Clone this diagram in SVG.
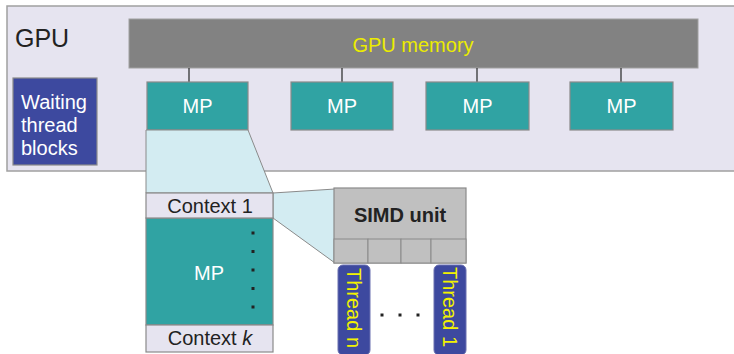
<svg xmlns="http://www.w3.org/2000/svg" width="734" height="354" viewBox="0 0 734 354">
<style>
text{font-family:"Liberation Sans",Arial,sans-serif;font-size:20px}
.mp{fill:#30a3a3;stroke:#8a8a8a;stroke-width:1.2}
.mpt{fill:#ffffff;text-anchor:middle}
.ctx{fill:#e6e4f0;stroke:#8a8a8a;stroke-width:1.2}
.ctxt{fill:#222;text-anchor:middle}
.zoom{fill:#d3ecf2;stroke:#8a8a8a;stroke-width:1}
.link{stroke:#333;stroke-width:1.3}
.thr{fill:#3d499f;stroke:#6a70b0;stroke-width:1}
.thrt{fill:#f2f200;text-anchor:middle}
.dot{fill:#222}
.cell{fill:#c0c0c0;stroke:#8a8a8a;stroke-width:1}
</style>
<g id="gpu">
<rect x="7" y="6" width="740" height="165" fill="#e6e4f0" stroke="#a0a0a0" stroke-width="1.5"/>
<text x="15" y="47" style="font-size:25px" fill="#222">GPU</text>
</g>
<g id="gpu-memory">
<rect x="129" y="19" width="569" height="49" fill="#828282" stroke="#a0a0a0" stroke-width="1"/>
<text x="413" y="52" fill="#ecec00" text-anchor="middle">GPU memory</text>
</g>
<g id="connectors">
<line class="link" x1="189" y1="68" x2="189" y2="82"/>
<line class="link" x1="342" y1="68" x2="342" y2="82"/>
<line class="link" x1="477" y1="68" x2="477" y2="82"/>
<line class="link" x1="621" y1="68" x2="621" y2="82"/>
</g>
<g id="mp1"><rect class="mp" x="147" y="82" width="101" height="48"/><text class="mpt" x="197.5" y="113">MP</text></g>
<g id="mp2"><rect class="mp" x="291" y="82" width="102" height="48"/><text class="mpt" x="342" y="113">MP</text></g>
<g id="mp3"><rect class="mp" x="426" y="82" width="103" height="48"/><text class="mpt" x="477.5" y="113">MP</text></g>
<g id="mp4"><rect class="mp" x="570" y="82" width="103" height="48"/><text class="mpt" x="621.5" y="113">MP</text></g>
<g id="waiting">
<rect x="13" y="78" width="84" height="87" fill="#3d499f" stroke="#8a8a8a" stroke-width="1.2"/>
<text x="21" y="109" fill="#fff">Waiting</text>
<text x="21" y="132" fill="#fff">thread</text>
<text x="21" y="155" fill="#fff">blocks</text>
</g>
<g id="zoom-mp">
<polygon class="zoom" points="146,130 248,130 273,193 146,193"/>
</g>
<g id="zoom-simd">
<polygon class="zoom" points="273,193 335,189 335,263 273,218"/>
</g>
<g id="mp-detail">
<rect class="mp" x="146" y="218" width="127" height="107"/>
<text class="mpt" x="209" y="280">MP</text>
<rect class="dot" x="251.5" y="231.5" width="3" height="3"/>
<rect class="dot" x="251.5" y="250" width="3" height="3"/>
<rect class="dot" x="251.5" y="268.5" width="3" height="3"/>
<rect class="dot" x="251.5" y="287" width="3" height="3"/>
<rect class="dot" x="251.5" y="305.5" width="3" height="3"/>
</g>
<g id="context1"><rect class="ctx" x="146" y="193" width="127" height="25"/><text class="ctxt" x="210" y="213">Context 1</text></g>
<g id="contextk"><rect class="ctx" x="146" y="325" width="127" height="27"/><text class="ctxt" x="210" y="345">Context <tspan font-style="italic">k</tspan></text></g>
<g id="simd">
<rect x="334" y="188" width="132" height="75" fill="#c0c0c0" stroke="#8a8a8a" stroke-width="1.2"/>
<rect class="cell" x="334" y="239" width="34" height="24"/>
<rect class="cell" x="368" y="239" width="33" height="24"/>
<rect class="cell" x="401" y="239" width="30" height="24"/>
<rect class="cell" x="431" y="239" width="35" height="24"/>
<text x="400" y="222" font-weight="bold" fill="#222" text-anchor="middle">SIMD unit</text>
</g>
<g id="thread-n">
<rect class="thr" x="338" y="265" width="32" height="90" rx="5"/>
<text class="thrt" transform="translate(347,308) rotate(90)">Thread n</text>
</g>
<g id="thread-1">
<rect class="thr" x="434" y="265" width="32" height="90" rx="5"/>
<text class="thrt" transform="translate(443,307) rotate(90)">Thread 1</text>
</g>
<g id="ellipsis">
<rect class="dot" x="380.5" y="313.5" width="3" height="3"/>
<rect class="dot" x="398.5" y="313.5" width="3" height="3"/>
<rect class="dot" x="416.5" y="313.5" width="3" height="3"/>
</g>
</svg>
